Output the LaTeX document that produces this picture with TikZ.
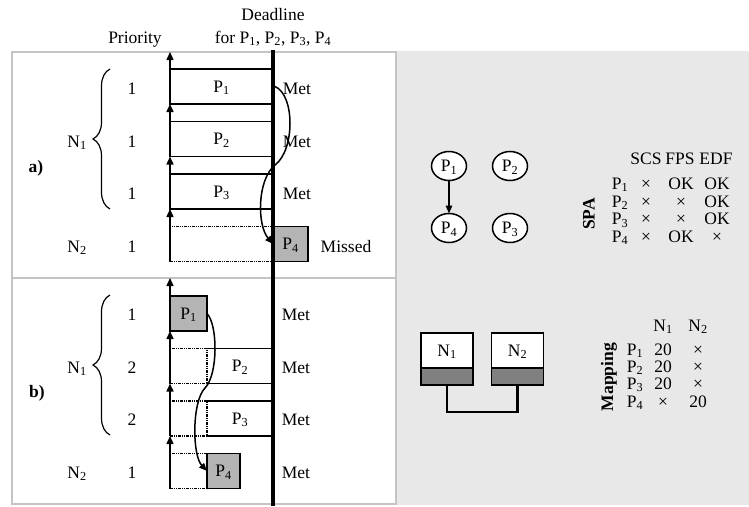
\documentclass[tikz,border=0pt]{standalone}
\usepackage{fontspec}
\setmainfont{Liberation Serif}
\usetikzlibrary{arrows.meta,shapes.geometric,decorations.pathreplacing}
\definecolor{bggray}{HTML}{E8E8E8}
\definecolor{framegray}{HTML}{C4C4C4}
\definecolor{boxgray}{HTML}{B4B4B4}
\definecolor{nodegray}{HTML}{808080}
\newcommand\pP[1]{P\textsubscript{#1}}
\newcommand\nN[1]{N\textsubscript{#1}}
\begin{document}
\begin{tikzpicture}[x=1pt,y=-1pt,
  font=\fontsize{17.5}{19}\selectfont,
  every node/.style={inner sep=0pt, outer sep=0pt},
  lbl/.style={anchor=base},
  frame/.style={draw=framegray, line width=1.5pt},
  task/.style={draw, line width=1.5pt, minimum height=35pt, anchor=north west, text depth=0pt},
  gtask/.style={task, fill=boxgray},
  dtask/.style={task, line width=1.3pt, dash pattern=on 3pt off 1pt on 1pt off 1pt on 1pt off 1pt},
  axarrow/.style={line width=1.5pt, -{Triangle[length=8pt,width=7pt]}},
  dep/.style={line width=1.5pt, -{Triangle[length=8pt,width=6.5pt]}},
  pbrace/.style={line width=1.2pt, decorate, decoration={brace, amplitude=17pt}},
  proc/.style={ellipse, draw, fill=white, line width=1.5pt, minimum width=35pt, minimum height=29pt, text depth=0pt},
  nodetop/.style={draw, fill=white, line width=1.5pt, minimum width=52pt, minimum height=35pt, anchor=north west, text depth=0pt},
  nodebot/.style={draw, fill=nodegray, line width=1.5pt, minimum width=52pt, minimum height=17pt, anchor=north west}
]
\useasboundingbox (0,0) rectangle (749,506);
\fill[bggray] (396,51) rectangle (749,505);
\draw[frame] (12,52) rectangle (396,504);
\draw[frame] (12,278) -- (396,278);

% top labels
\node[lbl] (prio) at (135,43) {Priority};
\node[lbl] (dl1) at (273,20) {Deadline};
\node[lbl] (dl2) at (273,43) {for \pP1, \pP2, \pP3, \pP4};

% ---------- panel a ----------
\node[task, minimum width=103pt] (p1a) at (170,69) {\pP1};
\node[task, minimum width=103pt] (p2a) at (170,121.5) {\pP2};
\node[task, minimum width=103pt] (p3a) at (170,174) {\pP3};
\node[dtask, minimum width=103pt] (p4da) at (170,226.5) {};
\node[gtask, minimum width=35pt] (p4a) at (273,226.5) {\pP4};

\draw[axarrow] (170,104) -- (170,52);
\draw[axarrow] (170,156.5) -- (170,104);
\draw[axarrow] (170,209) -- (170,156.5);
\draw[axarrow] (170,261.5) -- (170,209);

\foreach \y [count=\i] in {94.5,147,199.5,252} {
  \node[lbl] (pra\i) at (132,\y) {1};
}
\node[lbl] (meta1) at (297,94.5) {Met};
\node[lbl] (meta2) at (297,147) {Met};
\node[lbl] (meta3) at (297,199.5) {Met};
\node[lbl] (missa) at (346,252) {Missed};
\node[lbl] (n1a) at (77,147) {\nN1};
\node[lbl] (n2a) at (77,252) {\nN2};
\node[lbl, font=\fontsize{17.5}{19}\selectfont\bfseries] (la) at (36,172) {a)};
\draw[pbrace] (110,209) -- (110,69);

% ---------- panel b ----------
\node[gtask, minimum width=37pt] (p1b) at (170,296) {\pP1};
\node[dtask, minimum width=37pt] (p2bd) at (170,348.5) {};
\node[task, draw=none, minimum width=66pt] (p2b) at (207,348.5) {\pP2};
\draw[line width=1.5pt] (p2b.north west) -- (p2b.north east) -- (p2b.south east) -- (p2b.south west);
\node[dtask, minimum width=37pt] (p3bd) at (170,401) {};
\node[task, draw=none, minimum width=66pt] (p3b) at (207,401) {\pP3};
\draw[line width=1.5pt] (p3b.north west) -- (p3b.north east) -- (p3b.south east) -- (p3b.south west);
\node[dtask, minimum width=37pt] (p4bd) at (170,453.5) {};
\node[gtask, minimum width=33pt] (p4b) at (207,453.5) {\pP4};

\draw[axarrow] (170,331) -- (170,278);
\draw[axarrow] (170,383.5) -- (170,331);
\draw[axarrow] (170,436) -- (170,383.5);
\draw[axarrow] (170,488.5) -- (170,436);

\foreach \y/\p [count=\i] in {320.5/1,373/2,425.5/2,478/1} {
  \node[lbl] (prb\i) at (132,\y) {\p};
  \node[lbl] (metb\i) at (296,\y) {Met};
}
\node[lbl] (n1b) at (77,373) {\nN1};
\node[lbl] (n2b) at (77,478) {\nN2};
\node[lbl, font=\fontsize{17.5}{19}\selectfont\bfseries] (lb) at (37,397) {b)};
\draw[pbrace] (110,435) -- (110,295);

% deadline
\draw[line width=3.8pt] (273,50) -- (273,506);

% dependency curves
\draw[dep] ([xshift=2pt]p1a.east) .. controls (295,95) and (295,150) .. (275,165)
  .. controls (257,180) and (257,225) .. (p4a.west);
\draw[dep] (p1b.east) .. controls (218,325) and (218,375) .. (205,388)
  .. controls (192,401) and (192,455) .. (p4b.west);

% ---------- right side: task graph ----------
\node[proc] (c1) at (449,166) {\pP1};
\node[proc] (c2) at (510,166) {\pP2};
\node[proc] (c4) at (449,228) {\pP4};
\node[proc] (c3) at (510,228) {\pP3};
\draw[dep] (c1) -- (c4);

% SPA table
\node[lbl] (spah1) at (646,164) {SCS};
\node[lbl] (spah2) at (680,164) {FPS};
\node[lbl] (spah3) at (716,164) {EDF};
\foreach \y/\a/\b/\c [count=\i] in {189/×/OK/OK, 207/×/×/OK, 224.5/×/×/OK, 242/×/OK/×} {
  \node[lbl] (spap\i) at (620,\y) {\pP\i};
  \node[lbl] (spa\i a) at (646,\y) {\a};
  \node[lbl] (spa\i b) at (681,\y) {\b};
  \node[lbl] (spa\i c) at (717,\y) {\c};
}
\node[rotate=90] (spa) at (589,214) {\bfseries SPA};

% ---------- right side: architecture ----------
\node[nodetop] (nb1) at (421,333) {\nN1};
\node[nodebot] (nb1g) at (421,368) {};
\node[nodetop] (nb2) at (491.5,333) {\nN2};
\node[nodebot] (nb2g) at (491.5,368) {};
\draw[line width=2.8pt] (nb1g.south) -- ++(0,27) -| (nb2g.south);

% Mapping table
\node[lbl] (maph1) at (663,331) {\nN1};
\node[lbl] (maph2) at (698,331) {\nN2};
\foreach \y/\a/\b [count=\i] in {355/20/×, 372/20/×, 389/20/×, 407/×/20} {
  \node[lbl] (mapp\i) at (635,\y) {\pP\i};
  \node[lbl] (map\i a) at (663,\y) {\a};
  \node[lbl] (map\i b) at (698,\y) {\b};
}
\node[rotate=90] (mapping) at (609,377) {\bfseries Mapping};
\end{tikzpicture}
\end{document}
